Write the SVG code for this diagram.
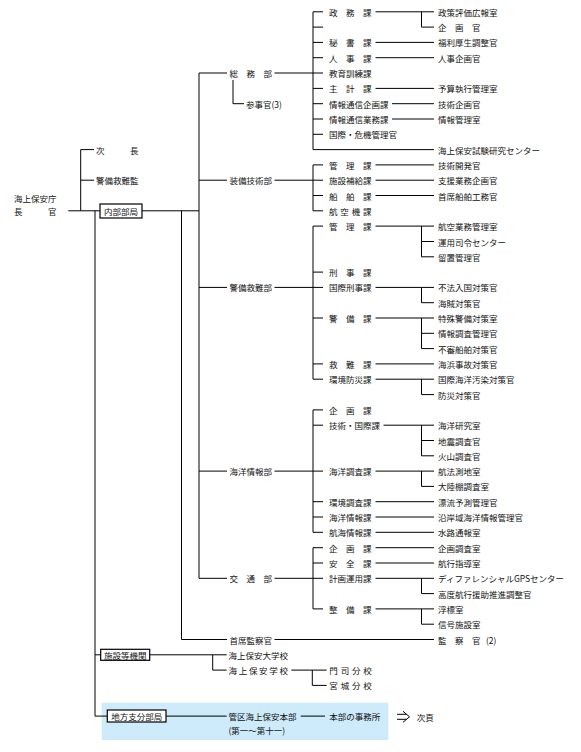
<svg xmlns="http://www.w3.org/2000/svg" width="581" height="752" viewBox="0 0 581 752">
<style>
text{font-family:"Noto Sans CJK JP","Noto Sans CJK SC",sans-serif;font-size:8.5px;fill:#111;dominant-baseline:central}
.ln{stroke:#000;stroke-width:1;fill:none}
.box{fill:#fff;stroke:#000;stroke-width:1.2}
</style>
<rect id="region-bg" x="101.7" y="702.7" width="286.6" height="37.3" fill="#cdebfa"/>
<g id="connectors" class="ln">
<path d="M68.3,210.8H100M142,210.8H199M80.7,149.6V210.8M80.7,149.6H94M80.7,180.2H94"/>
<path d="M95,210.8V716.1M95,654.8H100.7M95,716.1H107.3"/>
<path d="M181.5,210.8V639.5H227M274.5,639.5H434"/>
<path d="M199,73V578.3M199,73H227M199,180.2H227M199,287.4H227M199,471.1H227M199,578.3H227"/>
<path d="M274.5,73H313M274.5,180.2H313M274.5,287.4H313M274.5,471.1H313M274.5,578.3H313"/>
<path d="M233,80V103.7H244"/>
<path d="M313,11.8V149.6M313,164.9V210.8M313,226.1V379.2M313,409.9V532.3M313,547.7V608.9"/>
<path d="M313,11.8H323M313,27.1H323M313,42.4H323M313,57.7H323M313,73H323M313,88.4H323M313,103.7H323M313,119H323M313,134.3H323M313,149.6H434"/>
<path d="M313,164.9H323M313,180.2H323M313,195.5H323M313,210.8H323"/>
<path d="M313,226.1H323M313,272.1H323M313,287.4H323M313,318H323M313,363.9H323M313,379.2H323"/>
<path d="M313,409.9H323M313,425.2H323M313,471.1H323M313,501.7H323M313,517H323M313,532.3H323"/>
<path d="M313,547.7H323M313,563H323M313,578.3H323M313,608.9H323"/>
<path d="M375.5,11.8H434M421.5,11.8V27.1H434M375.5,42.4H434M375.5,57.7H434M375.5,88.4H434M392,103.7H434M392,119H434"/>
<path d="M375.5,164.9H434M375.5,180.2H434M375.5,195.5H434"/>
<path d="M375.5,226.1H434M421.5,226.1V256.8H434M421.5,241.5H434"/>
<path d="M375.5,287.4H434M421.5,287.4V302.7H434"/>
<path d="M375.5,318H434M421.5,318V348.6H434M421.5,333.3H434"/>
<path d="M375.5,363.9H434M375.5,379.2H434M421.5,379.2V394.6H434"/>
<path d="M383.5,425.2H434M421.5,425.2V455.8H434M421.5,440.5H434"/>
<path d="M375.5,471.1H434M421.5,471.1V486.4H434M375.5,501.7H434M375.5,517H434M375.5,532.3H434"/>
<path d="M375.5,547.7H434M375.5,563H434M375.5,578.3H434M421.5,578.3V593.6H434M375.5,608.9H434M421.5,608.9V624.2H434"/>
<path d="M149.7,654.8H226.7M212.7,654.8V670.1H226.7M291.3,670.1H326.7M312.3,670.1V685.4H326.7"/>
<path d="M166,716.1H226.7M300.7,716.1H325"/>
<path d="M397,714.3H406.5M397,719.3H406.5M403,711.3L409.5,716.8L403,722.3"/>
</g>
<g id="n-chokan"><text x="14" y="197.5">海上保安庁</text><text x="14" y="210.8" textLength="42.5" lengthAdjust="spacing">長官</text></g>
<g id="n-jicho"><text x="96" y="149.6" textLength="42.5" lengthAdjust="spacing">次長</text></g>
<g id="n-keibikyunankan"><text x="96" y="180.2">警備救難監</text></g>
<g id="n-naibu"><rect class="box" x="100" y="204" width="42" height="14"/><text x="121" y="210.8" text-anchor="middle">内部部局</text></g>
<g id="n-shisetsu"><rect class="box" x="100.7" y="649.3" width="49" height="11"/><text x="125.2" y="654.8" text-anchor="middle">施設等機関</text></g>
<g id="n-chiho"><rect class="box" x="107.3" y="710" width="58.7" height="12"/><text x="136.7" y="716.1" text-anchor="middle">地方支分部局</text></g>
<g id="n-somu"><text x="229.5" y="73" textLength="42.5" lengthAdjust="spacing">総務部</text></g>
<g id="n-sanjikan"><text x="246" y="103.7">参事官(3)</text></g>
<g id="n-sobi"><text x="229.5" y="180.2">装備技術部</text></g>
<g id="n-keibi"><text x="229.5" y="287.4">警備救難部</text></g>
<g id="n-kaiyo"><text x="229.5" y="471.1">海洋情報部</text></g>
<g id="n-kotsu"><text x="229.5" y="578.3" textLength="42.5" lengthAdjust="spacing">交通部</text></g>
<g id="n-shusekikansatsu"><text x="229.5" y="639.5">首席監察官</text></g>
<g id="sec-somu">
<text x="329" y="11.8" textLength="42.5" lengthAdjust="spacing">政務課</text>
<text x="329" y="42.4" textLength="42.5" lengthAdjust="spacing">秘書課</text>
<text x="329" y="57.7" textLength="42.5" lengthAdjust="spacing">人事課</text>
<text x="329" y="73">教育訓練課</text>
<text x="329" y="88.4" textLength="42.5" lengthAdjust="spacing">主計課</text>
<text x="329" y="103.7">情報通信企画課</text>
<text x="329" y="119">情報通信業務課</text>
<text x="329" y="134.3">国際・危機管理官</text>
</g>
<g id="sub-somu">
<text x="438" y="11.8">政策評価広報室</text>
<text x="438" y="27.1" textLength="42.5" lengthAdjust="spacing">企画官</text>
<text x="438" y="42.4">福利厚生調整官</text>
<text x="438" y="57.7">人事企画官</text>
<text x="438" y="88.4">予算執行管理室</text>
<text x="438" y="103.7">技術企画官</text>
<text x="438" y="119">情報管理室</text>
<text x="438" y="149.6">海上保安試験研究センター</text>
</g>
<g id="sec-sobi">
<text x="329" y="164.9" textLength="42.5" lengthAdjust="spacing">管理課</text>
<text x="329" y="180.2">施設補給課</text>
<text x="329" y="195.5" textLength="42.5" lengthAdjust="spacing">船舶課</text>
<text x="329" y="210.8" textLength="42.5" lengthAdjust="spacing">航空機課</text>
<text x="438" y="164.9">技術開発官</text>
<text x="438" y="180.2">支援業務企画官</text>
<text x="438" y="195.5">首席船舶工務官</text>
</g>
<g id="sec-keibi">
<text x="329" y="226.1" textLength="42.5" lengthAdjust="spacing">管理課</text>
<text x="329" y="272.1" textLength="42.5" lengthAdjust="spacing">刑事課</text>
<text x="329" y="287.4">国際刑事課</text>
<text x="329" y="318" textLength="42.5" lengthAdjust="spacing">警備課</text>
<text x="329" y="363.9" textLength="42.5" lengthAdjust="spacing">救難課</text>
<text x="329" y="379.2">環境防災課</text>
<text x="438" y="226.1">航空業務管理室</text>
<text x="438" y="241.5">運用司令センター</text>
<text x="438" y="256.8">留置管理官</text>
<text x="438" y="287.4">不法入国対策官</text>
<text x="438" y="302.7">海賊対策官</text>
<text x="438" y="318">特殊警備対策室</text>
<text x="438" y="333.3">情報調査管理官</text>
<text x="438" y="348.6">不審船舶対策官</text>
<text x="438" y="363.9">海浜事故対策官</text>
<text x="438" y="379.2">国際海洋汚染対策官</text>
<text x="438" y="394.6">防災対策官</text>
</g>
<g id="sec-kaiyo">
<text x="329" y="409.9" textLength="42.5" lengthAdjust="spacing">企画課</text>
<text x="329" y="425.2">技術・国際課</text>
<text x="329" y="471.1">海洋調査課</text>
<text x="329" y="501.7">環境調査課</text>
<text x="329" y="517">海洋情報課</text>
<text x="329" y="532.3">航海情報課</text>
<text x="438" y="425.2">海洋研究室</text>
<text x="438" y="440.5">地震調査官</text>
<text x="438" y="455.8">火山調査官</text>
<text x="438" y="471.1">航法測地室</text>
<text x="438" y="486.4">大陸棚調査室</text>
<text x="438" y="501.7">漂流予測管理官</text>
<text x="438" y="517">沿岸域海洋情報管理官</text>
<text x="438" y="532.3">水路通報室</text>
</g>
<g id="sec-kotsu">
<text x="329" y="547.7" textLength="42.5" lengthAdjust="spacing">企画課</text>
<text x="329" y="563" textLength="42.5" lengthAdjust="spacing">安全課</text>
<text x="329" y="578.3">計画運用課</text>
<text x="329" y="608.9" textLength="42.5" lengthAdjust="spacing">整備課</text>
<text x="438" y="547.7">企画調査室</text>
<text x="438" y="563">航行指導室</text>
<text x="438" y="578.3">ディファレンシャルGPSセンター</text>
<text x="438" y="593.6">高度航行援助推進調整官</text>
<text x="438" y="608.9">浮標室</text>
<text x="438" y="624.2">信号施設室</text>
</g>
<g id="n-kansatsukan"><text x="438" y="639.5" textLength="42.5" lengthAdjust="spacing">監察官</text><text x="486" y="639.5">(2)</text></g>
<g id="n-daigakko"><text x="228.5" y="654.8">海上保安大学校</text></g>
<g id="n-gakko"><text x="228.5" y="670.1" textLength="59.5" lengthAdjust="spacing">海上保安学校</text></g>
<g id="n-moji"><text x="329.3" y="670.1" textLength="42.5" lengthAdjust="spacing">門司分校</text></g>
<g id="n-miyagi"><text x="329.3" y="685.4" textLength="42.5" lengthAdjust="spacing">宮城分校</text></g>
<g id="n-kanku"><text x="228.5" y="716.1">管区海上保安本部</text><text x="228.5" y="729.5">(第一～第十一)</text></g>
<g id="n-jimusho"><text x="329.3" y="716.1">本部の事務所</text></g>
<g id="n-jiko"><text x="416.7" y="716.6">次頁</text></g>
</svg>
